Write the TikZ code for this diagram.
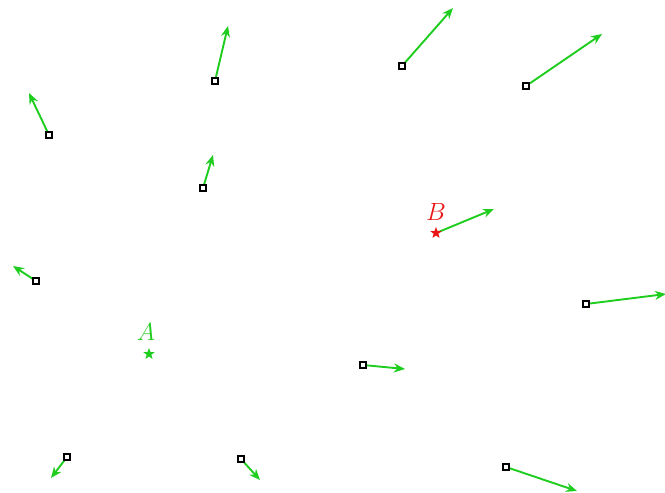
\documentclass[tikz,border=0pt]{standalone}
\usetikzlibrary{arrows.meta,shapes.geometric}
\definecolor{vgreen}{RGB}{30,205,30}
\definecolor{vred}{RGB}{235,20,20}
\begin{document}
\begin{tikzpicture}[x=1pt,y=-1pt,
  pt/.style={draw=black,line width=1.8pt,fill=white,minimum size=6.5pt,inner sep=0pt,rectangle},
  vec/.style={draw=vgreen,line width=1.9pt,-{Stealth[length=11pt,width=9pt]}},
  starA/.style={star,star points=5,star point ratio=2.4,fill=vgreen,minimum size=12pt,inner sep=0pt},
  starB/.style={star,star points=5,star point ratio=2.4,fill=vred,minimum size=12pt,inner sep=0pt},
  lbl/.style={font=\fontsize{24}{24}\selectfont,inner sep=0pt}]
\useasboundingbox (0,0) rectangle (665,493);
% tips
\coordinate (t1) at (29,93);
\coordinate (t2) at (228,26);
\coordinate (t3) at (453,8);
\coordinate (t4) at (602,34);
\coordinate (t5) at (213,155);
\coordinate (t6) at (13,266);
\coordinate (t7) at (666,294);
\coordinate (t8) at (405,369);
\coordinate (t9) at (51,478);
\coordinate (t10) at (260,480);
\coordinate (t11) at (577,491);
\coordinate (tB) at (494,209);
% bases
\coordinate (c1) at (49,135);
\coordinate (c2) at (215,81);
\coordinate (c3) at (402,66);
\coordinate (c4) at (526,86);
\coordinate (c5) at (203,188);
\coordinate (c6) at (36,281);
\coordinate (c7) at (586,304);
\coordinate (c8) at (363,365);
\coordinate (c9) at (67,457);
\coordinate (c10) at (241,459);
\coordinate (c11) at (506,467);
\foreach \i in {1,...,11} {\draw[vec] (c\i) -- (t\i);}
\foreach \i in {1,...,11} {\node[pt] (p\i) at (c\i) {};}
% B
\draw[vec] (436,233) coordinate (cB) -- (tB);
\node[starB] (sB) at (cB) {};
\node[lbl,text=vred] (lB) at (436,212) {$B$};
% A
\node[starA] (sA) at (149,354) {};
\node[lbl,text=vgreen] (lA) at (146,332) {$A$};
\end{tikzpicture}
\end{document}
